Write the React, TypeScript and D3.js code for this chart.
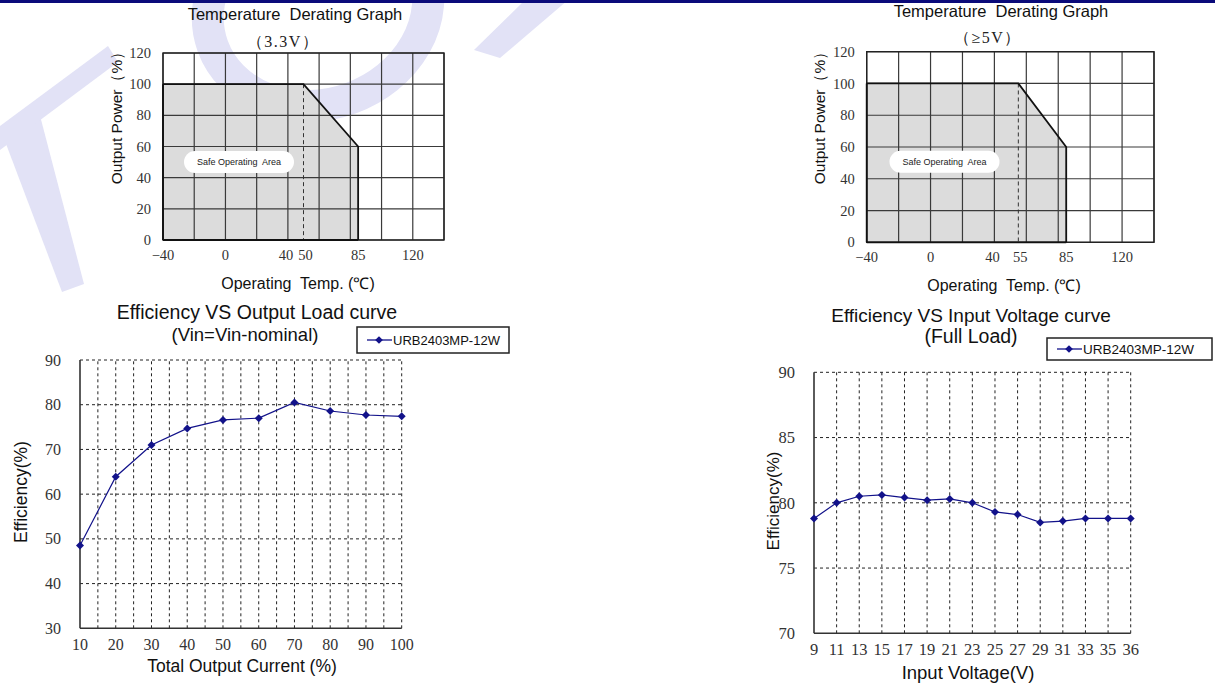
import React from "react";
import * as d3 from "d3";

// ---------- DATA ----------
const deratingGridX = [-40, -20, 0, 20, 40, 60, 80, 100, 120, 140];
const deratingYTicks = [0, 20, 40, 60, 80, 100, 120];
const deratingXTicks33 = [-40, 0, 40, 50, 85, 120];
const deratingXTicks5 = [-40, 0, 40, 55, 85, 120];
const safeArea33: [number, number][] = [[-40, 0], [-40, 100], [50, 100], [85, 60], [85, 0]];
const safeArea5: [number, number][] = [[-40, 0], [-40, 100], [55, 100], [85, 60], [85, 0]];
const knee33 = 50;
const knee5 = 55;

const loadPct = [10, 20, 30, 40, 50, 60, 70, 80, 90, 100];
const loadEff = [48.5, 63.9, 71.0, 74.7, 76.6, 77.0, 80.5, 78.6, 77.7, 77.4];
const loadYTicks = [30, 40, 50, 60, 70, 80, 90];
const loadGridX = [15, 20, 25, 30, 35, 40, 45, 50, 55, 60, 65, 70, 75, 80, 85, 90, 95, 100];

const vinLabels = ["9", "11", "13", "15", "17", "19", "21", "23", "25", "27", "29", "31", "33", "35", "36"];
const vinEff = [78.8, 80.0, 80.5, 80.6, 80.4, 80.2, 80.3, 80.0, 79.3, 79.1, 78.5, 78.6, 78.8, 78.8, 78.8];
const vinYTicks = [70, 75, 80, 85, 90];

const seriesName = "URB2403MP-12W";

// ---------- STYLE ----------
const SANS = "'Liberation Sans', Arial, sans-serif";
const SERIF = "'Liberation Serif', 'Times New Roman', serif";
const NAVY = "#12128a";

type DerProps = {
  left: number; right: number; top: number; bottom: number;
  area: [number, number][]; knee: number; xTicks: number[];
  title: string; titleX: number; titleY: number;
  sub: string; subX: number; subY: number;
  ylabX: number; ylabY: number; xlabX: number; xlabY: number;
  xtickY: number; pillX: number; pillY: number;
};

function Derating(p: DerProps) {
  const x = d3.scaleLinear().domain([-40, 140]).range([p.left, p.right]);
  const y = d3.scaleLinear().domain([0, 120]).range([p.bottom, p.top]);
  const areaPath = d3.line<[number, number]>().x(d => x(d[0])).y(d => y(d[1]))(p.area) + "Z";
  const outline = d3.line<[number, number]>().x(d => x(d[0])).y(d => y(d[1]))(p.area.slice(1));
  return (
    <g>
      <text x={p.titleX} y={p.titleY} textAnchor="middle" fontFamily={SANS} fontSize={16.5} fill="#111" style={{ whiteSpace: "pre" }}>{p.title}</text>
      <text x={p.subX} y={p.subY} textAnchor="middle" fontFamily={SERIF} fontSize={16} letterSpacing={1.5} fill="#222">{p.sub}</text>
      <path d={areaPath} fill="#dcdcdc" />
      {deratingGridX.map(v => (
        <line key={"gx" + v} x1={x(v)} x2={x(v)} y1={y(0)} y2={y(120)} stroke="#3a3a3a" strokeWidth={1.2} />
      ))}
      {deratingYTicks.map(v => (
        <line key={"gy" + v} x1={x(-40)} x2={x(140)} y1={y(v)} y2={y(v)} stroke="#3a3a3a" strokeWidth={1.2} />
      ))}
      <rect x={x(-40)} y={y(120)} width={x(140) - x(-40)} height={y(0) - y(120)} fill="none" stroke="#222" strokeWidth={1.4} />
      <line x1={x(p.knee)} x2={x(p.knee)} y1={y(100)} y2={y(0)} stroke="#333" strokeWidth={1} strokeDasharray="4,3" />
      <path d={outline || ""} fill="none" stroke="#111" strokeWidth={1.8} />
      <line x1={x(-40)} x2={x(-40)} y1={y(0)} y2={y(100)} stroke="#111" strokeWidth={1.8} />
      <line x1={x(-40)} x2={x(85)} y1={y(0)} y2={y(0)} stroke="#111" strokeWidth={1.8} />
      <rect x={p.pillX - 55} y={p.pillY - 11} width={110} height={22} rx={11} ry={11} fill="#fff" />
      <text x={p.pillX} y={p.pillY + 3} textAnchor="middle" fontFamily={SANS} fontSize={9} fill="#222" style={{ whiteSpace: "pre" }}>Safe Operating  Area</text>
      {deratingYTicks.map(v => (
        <text key={"yt" + v} x={p.left - 12} y={y(v)} dy="0.35em" textAnchor="end" fontFamily={SERIF} fontSize={14.5} fill="#333">{v}</text>
      ))}
      {p.xTicks.map(v => (
        <text key={"xt" + v} x={x(v) + (v === 40 ? -2 : v === 50 || v === 55 ? 2 : 0)} y={p.xtickY} dy="0.35em" textAnchor="middle" fontFamily={SERIF} fontSize={14.5} fill="#333">{v < 0 ? "\u2212" + Math.abs(v) : v}</text>
      ))}
      <text x={p.xlabX} y={p.xlabY} dy="0.35em" textAnchor="middle" fontFamily={SANS} fontSize={16} fill="#111" style={{ whiteSpace: "pre" }}>{"Operating  Temp. (\u2103)"}</text>
      <text transform={`translate(${p.ylabX},${p.ylabY}) rotate(-90)`} dy="0.35em" textAnchor="middle" fontFamily={SANS} fontSize={15.5} fill="#111">{"Output Power\uFF08%\uFF09"}</text>
    </g>
  );
}

function Legend({ x0, y0, w, h, fs }: { x0: number; y0: number; w: number; h: number; fs: number }) {
  const cy = y0 + h / 2;
  return (
    <g>
      <rect x={x0} y={y0} width={w} height={h} fill="#fff" stroke="#222" strokeWidth={1.5} />
      <line x1={x0 + 10} x2={x0 + 35} y1={cy} y2={cy} stroke={NAVY} strokeWidth={1.3} />
      <path d={d3.symbol().type(d3.symbolSquare).size(30)() || ""} transform={`translate(${x0 + 22},${cy}) rotate(45)`} fill={NAVY} />
      <text x={x0 + 36} y={cy} dy="0.36em" fontFamily={SANS} fontSize={fs} fill="#111">{seriesName}</text>
    </g>
  );
}

function LoadChart() {
  const left = 80, right = 401.7, top = 360, bottom = 628.3;
  const x = d3.scaleLinear().domain([10, 100]).range([left, right]);
  const y = d3.scaleLinear().domain([30, 90]).range([bottom, top]);
  const pts = loadPct.map((v, i) => [x(v), y(loadEff[i])] as [number, number]);
  const line = d3.line()(pts);
  const diamond = d3.symbol().type(d3.symbolSquare).size(32)() || "";
  return (
    <g>
      <text x={257} y={319} textAnchor="middle" fontFamily={SANS} fontSize={19.5} fill="#111">Efficiency VS Output Load curve</text>
      <text x={245} y={341} textAnchor="middle" fontFamily={SANS} fontSize={18.5} fill="#111">(Vin=Vin-nominal)</text>
      {loadGridX.map(v => (
        <line key={"gx" + v} x1={x(v)} x2={x(v)} y1={bottom} y2={top} stroke="#222" strokeWidth={1} strokeDasharray="3,3" />
      ))}
      {loadYTicks.slice(1).map(v => (
        <line key={"gy" + v} x1={left} x2={right} y1={y(v)} y2={y(v)} stroke="#222" strokeWidth={1} strokeDasharray="3,3" />
      ))}
      <line x1={left} x2={left} y1={top} y2={bottom} stroke="#333" strokeWidth={1.6} />
      <line x1={left} x2={right} y1={bottom} y2={bottom} stroke="#333" strokeWidth={1.6} />
      <path d={line || ""} fill="none" stroke={NAVY} strokeWidth={1.2} />
      {pts.map((p, i) => (
        <path key={"m" + i} d={diamond} transform={`translate(${p[0]},${p[1]}) rotate(45)`} fill={NAVY} />
      ))}
      {loadYTicks.map(v => (
        <text key={"yt" + v} x={61} y={y(v)} dy="0.35em" textAnchor="end" fontFamily={SERIF} fontSize={16} fill="#333">{v}</text>
      ))}
      {loadPct.map(v => (
        <text key={"xt" + v} x={x(v)} y={644} dy="0.35em" textAnchor="middle" fontFamily={SERIF} fontSize={16} fill="#333">{v}</text>
      ))}
      <text x={242} y={666} dy="0.35em" textAnchor="middle" fontFamily={SANS} fontSize={17.5} fill="#111">Total Output Current (%)</text>
      <text transform="translate(21,492) rotate(-90)" dy="0.35em" textAnchor="middle" fontFamily={SANS} fontSize={17.5} fill="#111">Efficiency(%)</text>
      <Legend x0={357} y0={327} w={152} h={26} fs={13} />
    </g>
  );
}

function VinChart() {
  const left = 814, right = 1130.7, top = 372.3, bottom = 633.3;
  const x = d3.scalePoint<string>().domain(vinLabels).range([left, right]);
  const y = d3.scaleLinear().domain([70, 90]).range([bottom, top]);
  const pts = vinLabels.map((v, i) => [x(v) as number, y(vinEff[i])] as [number, number]);
  const line = d3.line()(pts);
  const diamond = d3.symbol().type(d3.symbolSquare).size(32)() || "";
  return (
    <g>
      <text x={971} y={322} textAnchor="middle" fontFamily={SANS} fontSize={19} fill="#111">Efficiency VS Input Voltage curve</text>
      <text x={971} y={343} textAnchor="middle" fontFamily={SANS} fontSize={19.5} fill="#111">(Full Load)</text>
      {vinLabels.slice(1).map(v => (
        <line key={"gx" + v} x1={x(v)} x2={x(v)} y1={bottom} y2={top} stroke="#222" strokeWidth={1} strokeDasharray="3,3" />
      ))}
      {vinYTicks.slice(1).map(v => (
        <line key={"gy" + v} x1={left} x2={right} y1={y(v)} y2={y(v)} stroke="#222" strokeWidth={1} strokeDasharray="3,3" />
      ))}
      <line x1={left} x2={left} y1={top} y2={bottom} stroke="#333" strokeWidth={1.6} />
      <line x1={left} x2={right} y1={bottom} y2={bottom} stroke="#333" strokeWidth={1.6} />
      {vinYTicks.map(v => (
        <text key={"yt" + v} x={795} y={y(v)} dy="0.35em" textAnchor="end" fontFamily={SERIF} fontSize={16.5} fill="#333">{v}</text>
      ))}
      {vinLabels.map(v => (
        <text key={"xt" + v} x={x(v)} y={649} dy="0.35em" textAnchor="middle" fontFamily={SERIF} fontSize={16.5} fill="#333">{v}</text>
      ))}
      <text x={968} y={673} dy="0.35em" textAnchor="middle" fontFamily={SANS} fontSize={18.5} fill="#111">Input Voltage(V)</text>
      <text transform="translate(773,501) rotate(-90)" dy="0.35em" textAnchor="middle" fontFamily={SANS} fontSize={17} fill="#111">Efficiency(%)</text>
      <path d={line || ""} fill="none" stroke={NAVY} strokeWidth={1.2} />
      {pts.map((p, i) => (
        <path key={"m" + i} d={diamond} transform={`translate(${p[0]},${p[1]}) rotate(45)`} fill={NAVY} />
      ))}
      <Legend x0={1047} y0={338} w={165} h={22} fs={13.5} />
    </g>
  );
}

function Watermark() {
  const c = "#e2e2f6";
  return (
    <g fill={c} stroke="none">
      <polygon points="0,128 38,108 84,284 62,292" />
      <polygon points="0,150 0,126 108,46 118,62" />
      <ellipse cx={318} cy={8} rx={112} ry={96} fill="none" stroke={c} strokeWidth={32} transform="rotate(-20 318 8)" />
      <polygon points="525,0 568,0 500,58 474,50" />
    </g>
  );
}

export default function App() {
  return (
    <svg width={1215} height={691} style={{ position: "absolute", left: 0, top: 0, background: "#fff" }}>
      <rect x={0} y={0} width={1215} height={691} fill="#fff" />
      <Watermark />
      <rect x={0} y={0} width={1215} height={3} fill="#0a0a7a" />
      <Derating left={163} right={444} top={53} bottom={240} area={safeArea33} knee={knee33} xTicks={deratingXTicks33}
        title="Temperature  Derating Graph" titleX={295} titleY={20}
        sub={"\uFF083.3V\uFF09"} subX={283} subY={47}
        ylabX={117} ylabY={114} xlabX={298} xlabY={283} xtickY={255} pillX={239} pillY={162} />
      <Derating left={866.7} right={1154} top={51.7} bottom={242.3} area={safeArea5} knee={knee5} xTicks={deratingXTicks5}
        title="Temperature  Derating Graph" titleX={1001} titleY={17}
        sub={"\uFF08\u22655V\uFF09"} subX={988} subY={43}
        ylabX={820} ylabY={114} xlabX={1004} xlabY={285} xtickY={257} pillX={944.5} pillY={161.7} />
      <LoadChart />
      <VinChart />
    </svg>
  );
}
